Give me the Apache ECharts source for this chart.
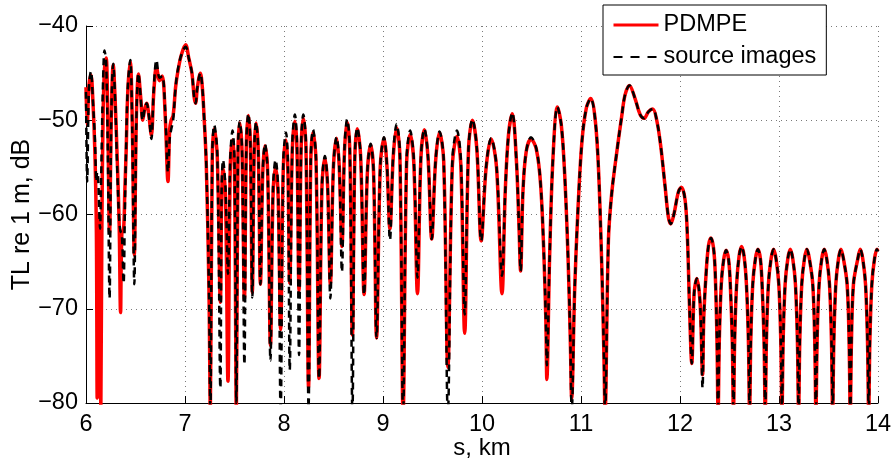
<!DOCTYPE html>
<html><head><meta charset="utf-8">
<script src="https://cdn.jsdelivr.net/npm/echarts/dist/echarts.min.js"></script>
<style>html,body{margin:0;padding:0;background:#fff}#c{width:894px;height:461px}</style>
</head><body><div id="c"></div>
<script>
// range, km
const rangeKm = [
6.000,6.012,6.030,6.050,6.070,6.090,6.105,6.113,6.122,6.132,6.142,6.150,6.160,6.172,6.187,6.204,6.220,6.238,6.255,6.275,
6.295,6.315,6.335,6.349,6.362,6.380,6.392,6.405,6.422,6.447,6.467,6.488,6.508,6.530,6.552,6.573,6.593,6.612,6.635,6.660,
6.685,6.712,6.743,6.770,6.800,6.828,6.845,6.860,6.880,6.905,6.930,6.965,7.006,7.040,7.070,7.092,7.107,7.125,7.155,7.175,
7.192,7.215,7.242,7.256,
7.2755,7.295,7.326,7.357,7.3705,7.384,7.409,7.434,7.457,7.480,7.4995,7.519,7.5355,7.552,7.576,7.600,7.620,7.640,7.660,7.680,
7.699,7.718,7.740,7.762,7.785,7.808,7.8355,7.863,7.889,7.915,7.9405,7.966,7.993,8.020,8.039,8.058,8.084,8.110,8.131,8.152,
8.1735,8.195,8.2215,8.248,8.2705,8.293,8.3235,8.354,8.3835,8.413,8.4405,8.468,8.4995,8.531,8.558,8.585,8.6115,8.638,8.6645,8.691,
8.7155,8.740,8.7745,8.809,8.842,8.875,8.905,8.935,8.9725,9.010,9.040,9.070,9.104,9.138,9.1705,9.203,9.2385,9.274,9.311,9.348,
9.383,9.418,9.455,9.492,9.5315,9.571,9.613,9.655,9.701,9.747,9.786,9.825,9.864,9.903,9.9475,9.992,10.042,10.092,10.147,10.202,
10.235,10.268,10.306,10.346,10.373,10.390,
10.414,10.447,10.495,10.549,10.592,10.626,10.646,10.655,10.683,10.717,10.762,10.801,10.835,10.869,10.892,10.906,10.936,10.970,11.010,11.054,
11.098,11.145,11.179,11.212,11.232,11.243,11.277,11.310,11.360,11.411,11.445,11.489,11.546,11.597,11.637,11.681,11.725,11.765,11.806,11.850,
11.883,11.907,11.940,11.984,12.015,12.052,12.075,12.095,12.119,12.143,12.170,12.203,12.228,12.240,12.264,12.288,12.313,12.338,12.355,12.373,
12.385,12.397,12.417,12.441,12.466,12.491,12.508,12.528,
12.540,12.552,12.572,12.597,12.622,12.647,12.671,12.691,
12.703,12.715,12.735,12.762,12.787,12.812,12.829,12.849,
12.861,12.873,12.893,12.920,12.945,12.970,12.998,13.018,
13.030,13.042,13.062,13.089,13.114,13.139,13.166,13.186,
13.198,13.210,13.230,13.257,13.282,13.307,13.341,13.361,
13.373,13.385,13.405,13.432,13.457,13.482,13.510,13.530,
13.542,13.554,13.574,13.601,13.626,13.651,13.688,13.708,
13.720,13.732,13.752,13.796,13.821,13.846,13.874,13.894,
13.906,13.918,13.938,13.965,13.990,14.000
];
// TL re 1 m, dB — PDMPE
const tlPdmpe = [
-46.5,-50.5,-46.3,-45.2,-48.0,-53.5,-62.0,-79.5,-62.0,-60.0,-66.0,-80.5,-62.0,-50.0,-44.5,-43.4,-50.0,-62.0,-50.0,-44.1,
-48.0,-54.0,-61.0,-70.4,-62.0,-61.5,-57.5,-53.5,-47.0,-43.8,-50.0,-64.3,-50.0,-45.1,-47.5,-50.0,-48.8,-48.2,-49.5,-51.6,
-47.0,-44.3,-45.8,-45.3,-49.5,-56.5,-51.0,-50.0,-49.5,-46.5,-44.7,-43.0,-42.0,-43.5,-45.0,-47.5,-48.2,-46.5,-45.0,-46.5,
-49.5,-54.7,-68.0,-81.0,
-53.9,-50.9,-53.9,-69.3,-58.1,-55.1,-58.1,-77.7,-55.1,-52.1,-55.1,-81.0,-53.3,-50.3,-53.3,-69.1,-52.5,-49.5,-52.5,-68.3,
-53.3,-50.3,-53.3,-67.4,-55.7,-52.7,-55.7,-73.9,-58.0,-55.0,-58.0,-72.2,-55.1,-52.1,-55.1,-67.3,-53.1,-50.1,-53.1,-68.1,
-52.8,-49.8,-52.8,-78.3,-54.3,-51.3,-54.3,-77.4,-57.0,-54.0,-57.0,-67.4,-54.9,-51.9,-54.9,-63.4,-53.2,-50.2,-53.2,-72.8,
-53.9,-50.9,-53.9,-68.5,-55.6,-52.6,-55.6,-73.1,-54.9,-51.9,-54.9,-61.5,-53.8,-50.8,-53.8,-81.0,-54.5,-51.5,-54.5,-68.4,
-54.0,-51.0,-54.0,-62.6,-54.3,-51.3,-54.3,-76.2,-54.7,-51.7,-54.7,-72.6,-53.0,-50.0,-53.0,-62.8,-55.0,-52.0,-55.0,-68.4,
-57.5,-51.5,-49.3,-54.0,-61.0,-66.0,
-57.5,-53.3,-52.0,-53.1,-56.8,-64.5,-71.7,-77.5,-64.5,-54.0,-48.6,-50.5,-55.7,-64.5,-73.3,-79.5,-68.0,-59.3,-52.2,-48.7,
-47.7,-50.1,-55.7,-66.3,-75.1,-81.0,-62.7,-57.8,-53.5,-49.6,-47.3,-46.3,-47.7,-49.4,-49.8,-49.1,-48.8,-50.0,-52.8,-57.1,
-60.3,-61.0,-59.9,-57.6,-57.1,-58.5,-62.4,-69.4,-75.8,-68.3,-66.8,-69.4,-77.0,-71.0,-66.2,-63.3,-62.5,-63.5,-66.0,-73.0,
-81.0,-73.4,-67.4,-64.8,-63.8,-64.8,-67.4,-73.4,
-81.0,-73.4,-67.4,-64.4,-63.4,-64.4,-67.4,-73.4,
-81.0,-73.4,-67.4,-64.7,-63.7,-64.7,-67.4,-73.4,
-81.0,-73.4,-67.4,-64.7,-63.7,-64.7,-67.4,-73.4,
-81.0,-73.4,-67.4,-64.7,-63.7,-64.7,-67.4,-73.4,
-81.0,-73.4,-67.4,-64.7,-63.7,-64.7,-67.4,-73.4,
-81.0,-73.4,-67.4,-64.7,-63.7,-64.7,-67.4,-73.4,
-81.0,-73.4,-67.4,-64.7,-63.7,-64.7,-67.4,-73.4,
-81.0,-73.4,-67.4,-64.7,-63.7,-64.7,-67.4,-73.4,
-81.0,-73.4,-67.4,-64.7,-63.7,-63.9
];
// TL re 1 m, dB — source images
const tlSourceImages = [
-47.0,-56.5,-46.5,-44.8,-48.0,-52.0,-56.5,-55.5,-56.0,-59.0,-61.5,-58.0,-52.0,-46.0,-42.6,-44.0,-53.0,-68.9,-50.0,-44.0,
-48.0,-55.0,-60.5,-61.8,-62.0,-67.3,-60.0,-53.0,-46.5,-43.6,-51.0,-67.4,-50.5,-45.0,-47.5,-50.0,-48.8,-48.2,-49.5,-52.0,
-46.5,-43.6,-45.5,-45.3,-49.0,-55.5,-52.0,-51.0,-50.0,-46.5,-44.5,-43.0,-42.2,-43.5,-45.0,-47.5,-48.2,-46.5,-45.0,-46.5,
-49.5,-54.7,-68.0,-81.0,
-53.5,-50.5,-53.5,-78.4,-57.2,-54.2,-57.2,-66.3,-54.1,-51.1,-54.1,-80.0,-53.1,-50.1,-53.1,-75.9,-52.3,-49.3,-52.3,-68.8,
-53.2,-50.2,-53.2,-67.4,-55.5,-52.5,-55.5,-75.5,-57.2,-54.2,-57.2,-81.0,-54.3,-51.3,-54.3,-76.5,-52.4,-49.4,-52.4,-74.9,
-52.4,-49.4,-52.4,-80.5,-54.0,-51.0,-54.0,-77.4,-56.8,-53.8,-56.8,-68.9,-54.8,-51.8,-54.8,-66.1,-52.9,-49.9,-52.9,-81.0,
-53.8,-50.8,-53.8,-68.5,-55.5,-52.5,-55.5,-73.1,-54.8,-51.8,-54.8,-62.7,-53.4,-50.4,-53.4,-81.0,-54.1,-51.1,-54.1,-66.7,
-53.9,-50.9,-53.9,-62.6,-54.2,-51.2,-54.2,-81.0,-54.1,-51.1,-54.1,-70.6,-52.9,-49.9,-52.9,-62.8,-54.9,-51.9,-54.9,-66.5,
-57.5,-51.5,-49.2,-54.0,-61.0,-66.0,
-57.5,-53.3,-51.8,-53.0,-56.8,-64.5,-71.7,-76.0,-64.5,-54.0,-48.6,-50.5,-55.7,-64.5,-73.3,-81.0,-68.0,-59.3,-52.2,-48.7,
-47.7,-50.1,-55.7,-66.3,-75.1,-81.0,-62.7,-57.8,-53.5,-49.6,-47.3,-46.3,-47.7,-49.4,-49.8,-49.1,-48.8,-50.0,-52.8,-57.1,
-60.3,-61.0,-59.9,-57.6,-57.1,-58.5,-62.4,-69.4,-75.8,-68.3,-66.8,-69.4,-78.4,-71.0,-66.2,-63.3,-62.5,-63.5,-66.0,-73.0,
-81.0,-73.4,-67.4,-64.8,-63.8,-64.8,-67.4,-73.4,
-81.0,-73.4,-67.4,-64.4,-63.4,-64.4,-67.4,-73.4,
-81.0,-73.4,-67.4,-64.7,-63.7,-64.7,-67.4,-73.4,
-81.0,-73.4,-67.4,-64.7,-63.7,-64.7,-67.4,-73.4,
-81.0,-73.4,-67.4,-64.7,-63.7,-64.7,-67.4,-73.4,
-81.0,-73.4,-67.4,-64.7,-63.7,-64.7,-67.4,-73.4,
-81.0,-73.4,-67.4,-64.7,-63.7,-64.7,-67.4,-73.4,
-81.0,-73.4,-67.4,-64.7,-63.7,-64.7,-67.4,-73.4,
-81.0,-73.4,-67.4,-64.7,-63.7,-64.7,-67.4,-73.4,
-81.0,-73.4,-67.4,-64.7,-63.7,-63.9
];
const seriesNames = ['PDMPE', 'source images'];
const xLabel = 's, km';
const yLabel = 'TL re 1 m, dB';

const FONT = '"Liberation Sans", Arial, Helvetica, sans-serif';
const pairs = ys => rangeKm.map((x, i) => [x, ys[i]]);
const gridLine = { show: true, lineStyle: { color: '#7a7a7a', width: 1, type: [1, 4] } };

const chart = echarts.init(document.getElementById('c'), null, { renderer: 'canvas' });
chart.setOption({
  animation: false,
  backgroundColor: '#ffffff',
  grid: { left: 86, right: 16, top: 26, bottom: 58, containLabel: false, outerBoundsMode: 'none' },
  legend: {
    orient: 'vertical', left: 603, top: 5,
    padding: [8, 10, 6, 9], itemGap: 8, itemWidth: 45, itemHeight: 14,
    backgroundColor: '#ffffff', borderColor: '#000000', borderWidth: 1,
    itemStyle: { opacity: 0 },
    lineStyle: { width: 'inherit' },
    textStyle: { fontFamily: FONT, fontSize: 23.5, color: '#000' },
    data: [
      { name: seriesNames[0], lineStyle: { color: '#ff0000', width: 3, type: 'solid' } },
      { name: seriesNames[1], lineStyle: { color: '#000000', width: 2.2, type: [9, 8] } }
    ]
  },
  xAxis: {
    type: 'value', min: 6, max: 14, interval: 1,
    name: xLabel, nameLocation: 'middle', nameGap: 33, nameMoveOverlap: false,
    nameTextStyle: { fontFamily: FONT, fontSize: 24, color: '#000' },
    axisLine: { show: true, onZero: false, lineStyle: { color: '#000', width: 1 } },
    axisTick: { show: true, inside: true, length: 7, lineStyle: { color: '#000' } },
    axisLabel: { fontFamily: FONT, fontSize: 23.5, color: '#000', margin: 10 },
    splitLine: gridLine
  },
  yAxis: {
    type: 'value', min: -80, max: -40, interval: 10,
    name: yLabel, nameLocation: 'middle', nameGap: 51, nameRotate: 90, nameMoveOverlap: false,
    nameTextStyle: { fontFamily: FONT, fontSize: 25, color: '#000' },
    axisLine: { show: true, onZero: false, lineStyle: { color: '#000', width: 1 } },
    axisTick: { show: true, inside: true, length: 7, lineStyle: { color: '#000' } },
    axisLabel: { fontFamily: FONT, fontSize: 23.5, color: '#000', margin: 8,
      formatter: v => (v < 0 ? '\u2212' + Math.abs(v) : String(v)) },
    splitLine: gridLine
  },
  series: [
    { name: seriesNames[0], type: 'line', data: pairs(tlPdmpe), showSymbol: false, symbol: 'none',
      smooth: 0.35, clip: true,
      lineStyle: { color: '#ff0000', width: 3.5 }, itemStyle: { color: '#ff0000' } },
    { name: seriesNames[1], type: 'line', data: pairs(tlSourceImages), showSymbol: false, symbol: 'none',
      smooth: 0.35, clip: true,
      lineStyle: { color: '#000000', width: 2.5, type: [7, 5] }, itemStyle: { color: '#000000' } }
  ]
});
</script></body></html>
